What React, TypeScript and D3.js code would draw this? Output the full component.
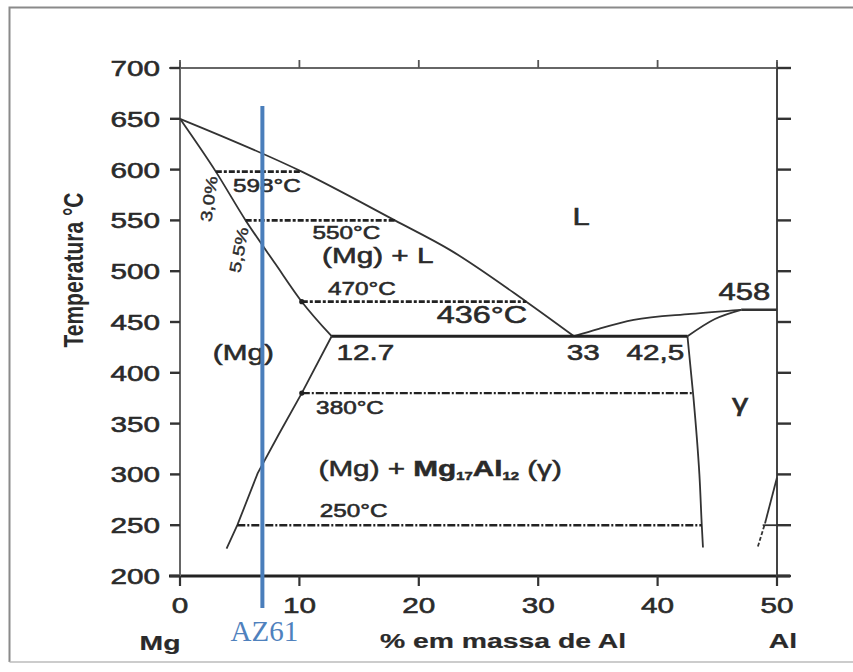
import React from "react";
import * as d3 from "d3";

// Mg-Al phase diagram (Mg rich side)
const xTicks = [0, 10, 20, 30, 40, 50];
const yTicks = [200, 250, 300, 350, 400, 450, 500, 550, 600, 650, 700];

const liquidusMg: [number, number][] = [[0, 650], [10.2, 598], [18, 550], [22.6, 521], [29, 470], [33, 436]];
const solidusMg: [number, number][] = [[0, 650], [3, 598], [5.5, 550], [8, 507], [10.2, 470], [12.7, 436]];
const solvusMg: [number, number][] = [[12.7, 436], [10.2, 380], [8.3, 340], [6.5, 301], [4.8, 250], [3.9, 227]];
const eutectic: [number, number][] = [[12.7, 436], [42.5, 436]];
const gammaLeft: [number, number][] = [[42.5, 436], [43, 376], [43.5, 300], [43.7, 250], [43.8, 228]];
const gammaLiquidus: [number, number][] = [[33, 436], [35, 443], [38, 452], [42.8, 458], [47, 462]];
const gammaSolidus: [number, number][] = [[42.5, 436], [44.8, 453], [47, 462]];
const peritectic: [number, number][] = [[47, 462], [50, 462]];
const rightSolid: [number, number][] = [[49, 252], [50, 297]];
const rightDashed: [number, number][] = [[48.4, 229], [49, 252]];

// isotherms: temperature, from, to
const isotherms = [
  { t: 598, x0: 3, x1: 10.2, dot: false },
  { t: 550, x0: 5.5, x1: 18, dot: false },
  { t: 470, x0: 10.2, x1: 29, dot: true },
  { t: 380, x0: 10.2, x1: 43, dot: true },
  { t: 250, x0: 4.8, x1: 43.7, dot: false },
];

// annotations: text, wt% Al, temperature, size, anchor
const annotations = [
  { text: "598°C", x: 4.44, t: 578, size: 18, anchor: "start" },
  { text: "550°C", x: 11.1, t: 532, size: 18, anchor: "start" },
  { text: "(Mg) + L", x: 11.9, t: 508, size: 22, anchor: "start" },
  { text: "470°C", x: 12.4, t: 477, size: 18, anchor: "start" },
  { text: "436°C", x: 21.5, t: 449, size: 24, anchor: "start" },
  { text: "L", x: 33.6, t: 545, size: 23, anchor: "middle" },
  { text: "458", x: 45.1, t: 472, size: 23, anchor: "start" },
  { text: "(Mg)", x: 5.3, t: 413, size: 22, anchor: "middle" },
  { text: "12.7", x: 13.1, t: 413, size: 22, anchor: "start" },
  { text: "33", x: 32.4, t: 413, size: 22, anchor: "start" },
  { text: "42,5", x: 37.4, t: 413, size: 22, anchor: "start" },
  { text: "γ", x: 46.9, t: 362, size: 24, anchor: "middle" },
  { text: "380°C", x: 11.4, t: 359, size: 18, anchor: "start" },
  { text: "250°C", x: 11.7, t: 258, size: 18, anchor: "start" },
];

const compLabels = [
  { text: "3,0%", x: 2.43, t: 571, angle: -82 },
  { text: "5,5%", x: 4.94, t: 521, angle: -79 },
];

const alloyName = "AZ61";
const alloyAl = 6.9;

const W = 853;
const H = 672;
const SX = 1.35; // the scan is stretched sideways
const FONT = "'Liberation Sans', Arial, sans-serif";
const INK = "#2a2a2a";

const x = d3.scaleLinear().domain([0, 50]).range([180, 777]);
const y = d3.scaleLinear().domain([200, 700]).range([576, 68]);

const lineX = d3.line<[number, number]>().x((d) => x(d[0])).y((d) => y(d[1])).curve(d3.curveMonotoneX);
const lineY = d3.line<[number, number]>().x((d) => x(d[0])).y((d) => y(d[1])).curve(d3.curveMonotoneY);
const straight = d3.line<[number, number]>().x((d) => x(d[0])).y((d) => y(d[1]));

function Txt({ px, py, size, anchor = "start", weight = "normal", children }: any) {
  return (
    <text
      transform={`translate(${px},${py}) scale(${SX},1)`}
      fontSize={size}
      textAnchor={anchor}
      fontWeight={weight}
      fontFamily={FONT}
      fill={INK}
      stroke={INK}
      strokeWidth={weight === "bold" ? 0.2 : 0.55}
    >
      {children}
    </text>
  );
}

export default function App() {
  const phase = { fill: "none", stroke: "#333", strokeWidth: 1.8 };
  return (
    <svg width={W} height={H} style={{ position: "absolute", left: 0, top: 0, background: "#fff" }}>
      {/* outer frame */}
      <path d={`M9.5,${H - 10} V7.5 H${W}`} fill="none" stroke="#8a8a8a" strokeWidth={2} />
      <path d={`M9.5,${H - 10} H${W}`} fill="none" stroke="#bbb" strokeWidth={1.5} />

      {/* axes box */}
      <line x1={169} x2={790} y1={y(700)} y2={y(700)} stroke="#666" strokeWidth={2} />
      <line x1={169} x2={790} y1={y(200)} y2={y(200)} stroke="#222" strokeWidth={3} />
      <line x1={x(0)} x2={x(0)} y1={y(700) - 6} y2={y(200) + 10} stroke="#666" strokeWidth={2} />
      <line x1={x(50)} x2={x(50)} y1={y(700) - 6} y2={y(200) + 10} stroke="#444" strokeWidth={2} />

      {xTicks.map((v) => (
        <g key={"xt" + v}>
          <line x1={x(v)} x2={x(v)} y1={y(700) - 8} y2={y(700)} stroke="#555" strokeWidth={1.8} />
          <line x1={x(v)} x2={x(v)} y1={y(200)} y2={y(200) + 10} stroke="#333" strokeWidth={2.2} />
          <Txt px={x(v)} py={613} size={22} anchor="middle">{v}</Txt>
        </g>
      ))}
      {yTicks.map((v) => (
        <g key={"yt" + v}>
          <line x1={170} x2={x(0)} y1={y(v)} y2={y(v)} stroke="#333" strokeWidth={2.4} />
          <line x1={x(50)} x2={791} y1={y(v)} y2={y(v)} stroke="#333" strokeWidth={2.4} />
          <Txt px={160} py={y(v) + 8} size={22} anchor="end">{v}</Txt>
        </g>
      ))}

      {/* phase boundaries */}
      <path d={lineX(liquidusMg) || ""} {...phase} />
      <path d={lineX(solidusMg) || ""} {...phase} />
      <path d={straight(solvusMg) || ""} {...phase} />
      <path d={lineY(gammaLeft) || ""} {...phase} />
      <path d={lineX(gammaLiquidus) || ""} {...phase} />
      <path d={lineX(gammaSolidus) || ""} {...phase} />
      <path d={straight(peritectic) || ""} {...phase} strokeWidth={2.4} />
      <path d={straight(eutectic) || ""} {...phase} stroke="#222" strokeWidth={3} />
      <path d={straight(rightSolid) || ""} {...phase} />
      <path d={straight(rightDashed) || ""} {...phase} strokeDasharray="4 2" />
      <line x1={x(48.8)} x2={x(50)} y1={y(250)} y2={y(250)} stroke="#333" strokeWidth={1.8} />

      {isotherms.map((d) => (
        <g key={"iso" + d.t}>
          <line
            x1={x(d.x0)}
            x2={x(d.x1)}
            y1={y(d.t)}
            y2={y(d.t)}
            stroke="#222"
            strokeWidth={d.t > 400 ? 2.8 : 2.4}
            strokeDasharray={d.t > 400 ? "6 2 3 2" : "8 2 2 2"}
          />
          {d.dot && <circle cx={x(d.x0)} cy={y(d.t)} r={2.6} fill="#222" />}
        </g>
      ))}

      {/* annotations */}
      {annotations.map((a) => (
        <Txt key={a.text} px={x(a.x)} py={y(a.t)} size={a.size} anchor={a.anchor}>{a.text}</Txt>
      ))}
      <text
        transform={`translate(${x(11.6)},${y(298.4)}) scale(${SX},1)`}
        fontSize={22}
        fontFamily={FONT}
        fill={INK}
        stroke={INK}
        strokeWidth={0.5}
      >
        <tspan>(Mg) + </tspan>
        <tspan fontWeight="bold">Mg</tspan>
        <tspan fontSize={11} dy={4} fontWeight="bold">17</tspan>
        <tspan dy={-4} fontWeight="bold">Al</tspan>
        <tspan fontSize={11} dy={4} fontWeight="bold">12</tspan>
        <tspan dy={-4}> (γ)</tspan>
      </text>
      {compLabels.map((c) => (
        <text
          key={c.text}
          transform={`translate(${x(c.x)},${y(c.t)}) rotate(${c.angle})`}
          fontSize={16}
          textAnchor="middle"
          dominantBaseline="central"
          fontFamily={FONT}
          fill={INK}
          stroke={INK}
          strokeWidth={0.4}
          textLength={46}
          lengthAdjust="spacingAndGlyphs"
        >
          {c.text}
        </text>
      ))}

      {/* axis titles */}
      <text
        transform={`translate(83,270) rotate(-90) scale(1,${SX})`}
        fontSize={21}
        fontWeight="bold"
        textAnchor="middle"
        fontFamily={FONT}
        fill={INK}
      >
        Temperatura °C
      </text>
      <Txt px={160} py={650} size={21} anchor="middle" weight="bold">Mg</Txt>
      <Txt px={503} py={648} size={21} anchor="middle" weight="bold">% em massa de Al</Txt>
      <Txt px={783} py={648} size={21} anchor="middle" weight="bold">Al</Txt>

      {/* alloy marker */}
      <line x1={x(alloyAl)} x2={x(alloyAl)} y1={106} y2={608} stroke="#4a7ebb" strokeWidth={4} />
      <text x={x(alloyAl) + 2} y={641} fontSize={29} textAnchor="middle" fontFamily="'Liberation Serif', 'Times New Roman', serif" fill="#4f81bd">
        {alloyName}
      </text>
    </svg>
  );
}
